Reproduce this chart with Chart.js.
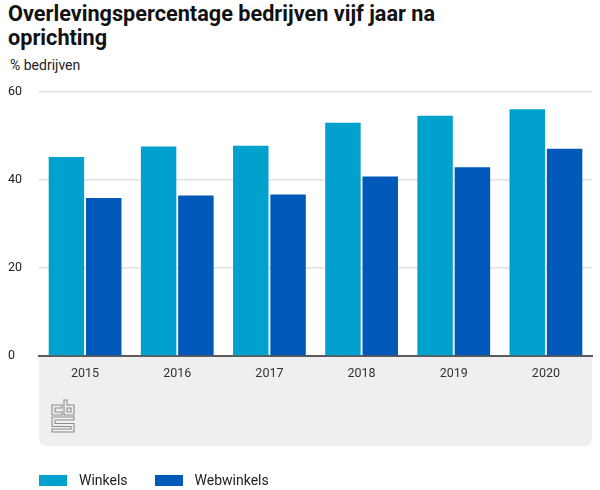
<!DOCTYPE html>
<html>
<head>
<meta charset="utf-8">
<script src="https://cdn.jsdelivr.net/npm/chart.js@4"></script>
<style>
  html, body { margin: 0; padding: 0; background: #fff; }
  body { width: 600px; height: 490px; position: relative; overflow: hidden; font-family: Roboto, "Noto Sans", sans-serif; color: #1a1a1a; }
  #title { position: absolute; left: 8px; top: 1.5px; font-weight: 700; font-size: 22px; line-height: 24px; transform: scaleX(0.985); transform-origin: 0 0; white-space: nowrap; color: #111; }
  #subtitle { position: absolute; left: 10px; top: 57px; font-size: 14px; color: #222; }
  #wrap { position: absolute; left: 0; top: 0; width: 600px; height: 490px; }
  #legend { position: absolute; left: 39px; top: 472px; display: flex; font-size: 14px; color: #222; }
  .item { display: flex; align-items: center; margin-right: 27px; }
  .sw { width: 28px; height: 11px; margin-right: 12px; }
</style>
</head>
<body>
<div id="title">Overlevingspercentage bedrijven vijf jaar na<br>oprichting</div>
<div id="subtitle">% bedrijven</div>
<div id="wrap"><canvas id="c" width="600" height="490"></canvas></div>
<div id="legend"></div>
<script>
const years = ["2015", "2016", "2017", "2018", "2019", "2020"];
const winkels = [45.2, 47.6, 47.8, 53.0, 54.6, 56.1];
const webwinkels = [35.9, 36.5, 36.7, 40.8, 42.9, 47.1];
const seriesNames = ["Winkels", "Webwinkels"];
const seriesColors = ["#00a1cd", "#0058b8"];
const yTicks = [0, 20, 40, 60];

const panelPlugin = {
  id: 'panel',
  beforeDraw(chart) {
    const { ctx, chartArea } = chart;
    const x = chart.scales.x;
    ctx.save();
    ctx.fillStyle = '#efefef';
    ctx.beginPath();
    ctx.roundRect(chartArea.left, chartArea.bottom, chartArea.right - chartArea.left, x.bottom - chartArea.bottom, [0, 0, 8, 8]);
    ctx.fill();
    ctx.restore();
  },
  afterDraw(chart) {
    const { ctx, chartArea } = chart;
    const x0 = chartArea.left + 13, y0 = chartArea.bottom + 44;
    ctx.save();
    ctx.translate(x0, y0);
    ctx.strokeStyle = '#8c8c8c';
    ctx.lineWidth = 1.1;
    const poly = pts => { ctx.beginPath(); pts.forEach((p, i) => i ? ctx.lineTo(p[0], p[1]) : ctx.moveTo(p[0], p[1])); ctx.closePath(); ctx.stroke(); };
    poly([[0,5],[10,5],[10,8],[3,8],[3,12],[10,12],[10,15],[0,15]]);
    poly([[12,0],[15,0],[15,5],[22,5],[22,15],[12,15]]);
    poly([[15,8],[19,8],[19,12],[15,12]]);
    poly([[0,17],[22,17],[22,20],[3,20],[3,23.5],[22,23.5],[22,32],[0,32],[0,29],[19,29],[19,26.5],[0,26.5]]);
    ctx.restore();
  }
};

const chart = new Chart(document.getElementById('c'), {
  type: 'bar',
  data: {
    labels: years,
    datasets: [
      { label: seriesNames[0], data: winkels, backgroundColor: seriesColors[0] },
      { label: seriesNames[1], data: webwinkels, backgroundColor: seriesColors[1] }
    ]
  },
  options: {
    responsive: false,
    animation: false,
    devicePixelRatio: 1,
    layout: { padding: { top: 92, left: 8, right: 8, bottom: 44 } },
    plugins: { legend: { display: false }, tooltip: { enabled: false } },
    datasets: { bar: { categoryPercentage: 0.81, barPercentage: 0.95 } },
    scales: {
      x: {
        grid: { display: false, drawTicks: false },
        border: { display: true, color: '#5a5a5a', width: 2 },
        ticks: { color: '#333', font: { family: 'Roboto', size: 12.5 }, padding: 10 },
        afterFit(s) { s.height = 90; }
      },
      y: {
        min: 0, max: 60,
        afterBuildTicks(s) { s.ticks = yTicks.map(v => ({ value: v })); },
        grid: { color: '#e2e2e2', lineWidth: 1.5, drawTicks: false },
        border: { display: false },
        ticks: { color: '#222', font: { family: 'Roboto', size: 12.5 }, crossAlign: 'far', padding: 0 },
        afterFit(s) { s.width = 31; }
      }
    }
  },
  plugins: [panelPlugin]
});

const legend = document.getElementById('legend');
chart.data.datasets.forEach(ds => {
  const it = document.createElement('div'); it.className = 'item';
  const sw = document.createElement('span'); sw.className = 'sw'; sw.style.background = ds.backgroundColor;
  const t = document.createElement('span'); t.textContent = ds.label;
  it.appendChild(sw); it.appendChild(t); legend.appendChild(it);
});
</script>
</body>
</html>
